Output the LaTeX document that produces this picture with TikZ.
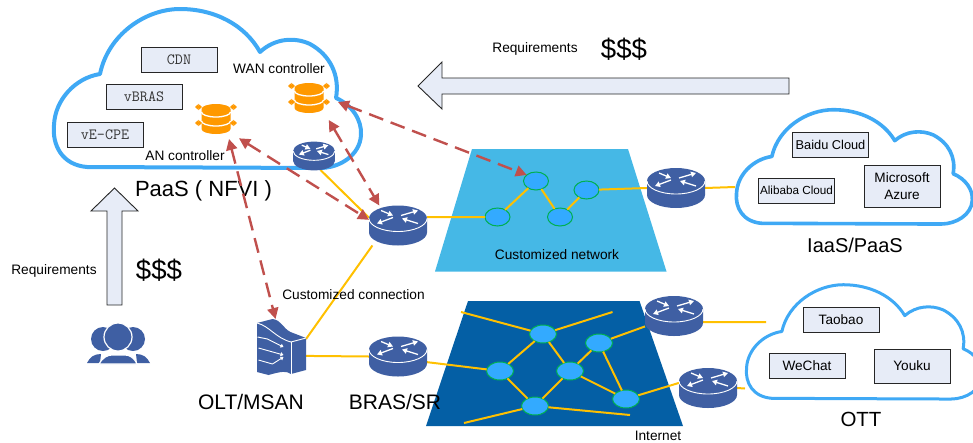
\documentclass[tikz,border=0pt]{standalone}
\usepackage{fontspec}
\setmainfont{Liberation Sans}
\usepackage{tikz}
\usetikzlibrary{arrows.meta, shapes.geometric}
\definecolor{cloudblue}{HTML}{3FA9F5}
\definecolor{boxfill}{HTML}{E7ECF7}
\definecolor{routerblue}{HTML}{3F5FA3}
\definecolor{netdark}{HTML}{045FA5}
\definecolor{netlight}{HTML}{45B8E6}
\definecolor{ovalblue}{HTML}{33AAFF}
\definecolor{ovalgreen}{HTML}{00B050}
\definecolor{linkyellow}{HTML}{FFC000}
\definecolor{dashred}{HTML}{C0504D}
\definecolor{serverorange}{HTML}{FF9900}
\tikzset{
    smalltext/.style={inner sep=0pt, align=center, font=\fontsize{13.7}{17}\selectfont},
    bigtext/.style={inner sep=0pt, font=\fontsize{21}{25}\selectfont},
    moneytext/.style={inner sep=0pt, font=\fontsize{27.6}{30}\selectfont},
    vnfbox/.style={draw=black!85, line width=0.9pt, fill=boxfill, inner sep=0pt, minimum width=76pt, minimum height=25pt, text=black!80, font=\ttfamily\fontsize{15.6}{17}\selectfont},
    appbox/.style={draw=black!85, line width=0.9pt, fill=boxfill, inner sep=0pt, minimum width=76pt, minimum height=25pt, align=center},
    netoval/.style={shape=ellipse, draw=ovalgreen, line width=1pt, fill=ovalblue, inner sep=0pt, outer sep=0pt},
    routerbox/.style={shape=rectangle, inner sep=0pt, outer sep=0pt, minimum width=58pt, minimum height=40pt},
    yellowline/.style={draw=linkyellow, line width=2pt},
    reddash/.style={draw=dashred, line width=2.4pt, dash pattern=on 15pt off 8pt, {Triangle[length=11pt,width=11pt]}-{Triangle[length=11pt,width=11pt]}},
    blockarrow/.style={draw=black!85, line width=0.9pt, fill=boxfill},
    cloudline/.style={draw=cloudblue, fill=white, line join=round},
    cloudshape/.pic={
        \path[cloudline] (35,159) .. controls (10,157) and (0,137) .. (2,117)
            .. controls (3,92) and (23,70) .. (48,66)
            .. controls (56,27) and (93,1) .. (128,1)
            .. controls (163,1) and (193,17) .. (208,44)
            .. controls (223,30) and (243,29) .. (258,36)
            .. controls (278,47) and (288,67) .. (284,90)
            .. controls (300,97) and (310,112) .. (309,127)
            .. controls (308,147) and (288,160) .. (268,160) -- cycle;
    },
    routericon/.pic={
        \fill[routerblue] (-29,-7) -- (-29,7) arc[start angle=180, end angle=360, x radius=29pt, y radius=13pt] -- (29,-7) arc[start angle=0, end angle=180, x radius=29pt, y radius=13pt] -- cycle;
        \draw[white, line width=0.9pt] (-29,-7) arc[start angle=180, end angle=360, x radius=29pt, y radius=13pt];
        \draw[white, line width=1.3pt, -{Triangle[length=5pt,width=5.5pt]}] (-17,-15) -- (-5,-10);
        \draw[white, line width=1.3pt, -{Triangle[length=5pt,width=5.5pt]}] (-5,-8) -- (-21,-2);
        \draw[white, line width=1.3pt, -{Triangle[length=5pt,width=5.5pt]}] (3,-10) -- (20,-15);
        \draw[white, line width=1.3pt, -{Triangle[length=5pt,width=5.5pt]}] (20,-2) -- (4,-7);
    },
    servericon/.pic={
        \fill[serverorange] (-14.5,-10) -- (-14.5,10) arc[start angle=180, end angle=360, x radius=14.5pt, y radius=5pt] -- (14.5,-10) arc[start angle=0, end angle=180, x radius=14.5pt, y radius=5pt] -- cycle;
        \draw[white, line width=1.3pt] (-14.5,-7) arc[start angle=180, end angle=360, x radius=14.5pt, y radius=5pt];
        \draw[white, line width=1.3pt] (-14.5,2) arc[start angle=180, end angle=360, x radius=14.5pt, y radius=5pt];
        \draw[serverorange, line width=1.4pt, {Triangle[length=3.5pt,width=6pt]}-{Triangle[length=3.5pt,width=6pt]}] (-21,-12) -- (-14,-12);
        \draw[serverorange, line width=1.4pt, {Triangle[length=3.5pt,width=6pt]}-{Triangle[length=3.5pt,width=6pt]}] (14,-12) -- (21,-12);
        \draw[serverorange, line width=1.4pt, {Triangle[length=3.5pt,width=6pt]}-{Triangle[length=3.5pt,width=6pt]}] (-21,4) -- (-14,4);
        \draw[serverorange, line width=1.4pt, {Triangle[length=3.5pt,width=6pt]}-{Triangle[length=3.5pt,width=6pt]}] (14,4) -- (21,4);
    },
    olticon/.pic={
        \fill[routerblue] (-24.5,-24) -- (-9,-28) .. controls (0,-27) and (1,-19) .. (9,-15) -- (24.5,-9) -- (24.5,23) -- (9.5,27) .. controls (5,24) and (1,24) .. (-13,28) -- (-24.5,25) -- cycle;
        \draw[white, line width=0.9pt] (-24.5,-24) .. controls (-12,-21) and (-6,-9) .. (9.5,-5) -- (24.5,-9);
        \draw[white, line width=0.9pt] (9.5,-5) -- (9.5,27);
        \draw[white, line width=0.9pt, -{Triangle[length=3pt,width=4pt]}] (-24,-10) -- (-14,-8) -- (2,0);
        \draw[white, line width=0.9pt, -{Triangle[length=3pt,width=4pt]}] (-23,1) -- (2,8);
        \draw[white, line width=0.9pt, -{Triangle[length=3pt,width=4pt]}] (-23,13) -- (-9,17) -- (2,10);
    },
    usersicon/.pic={
        \fill[routerblue] (-15,-8) circle[radius=12pt];
        \fill[routerblue] (15,-8) circle[radius=12pt];
        \fill[routerblue] (-31,16) .. controls (-28,10) and (-24,7) .. (-17,7) -- (-18,16) -- cycle;
        \fill[routerblue] (32,16) .. controls (29,10) and (25,7) .. (18,7) -- (19,16) -- cycle;
        \draw[white, line width=1.2pt, fill=routerblue] (0,-10) circle[radius=14pt];
        \draw[white, line width=1.2pt, fill=routerblue] (-19,17) .. controls (-15,10) and (-10,8) .. (-6,8) -- (7,8) .. controls (11,8) and (16,10) .. (19,17) -- cycle;
    }
}
\begin{document}
\begin{tikzpicture}[x=1pt, y=-1pt]
    \path[use as bounding box, clip] (0,0) rectangle (973,442);

    \fill[netlight] (472,149) -- (628,149) -- (666.5,271.5) -- (435,271.5) -- cycle;
    \fill[netdark] (468,301) -- (639.5,301) -- (683,426) -- (426,426) -- cycle;

    \pic[cloudline, line width=4pt] at (52,8) {cloudshape};
    \pic[cloudline, line width=3.6pt, xscale=0.768, yscale=0.719] at (735,109) {cloudshape};
    \pic[cloudline, line width=3pt, xscale=0.768, yscale=0.719] at (745,284) {cloudshape};

    \node(cdn)[vnfbox] at (179,59.5) {CDN};
    \node(vbras)[vnfbox] at (144,96.5) {vBRAS};
    \node(vecpe)[vnfbox] at (105,135) {vE-CPE};
    \node(baidu)[appbox, font=\fontsize{12.8}{15}\selectfont] at (830.5,144.5) {Baidu Cloud};
    \node(alibaba)[appbox, font=\fontsize{11.7}{14}\selectfont] at (796.5,190.5) {Alibaba Cloud};
    \node(azure)[appbox, minimum height=42pt, font=\fontsize{13.6}{17.5}\selectfont] at (902,186) {Microsoft\\Azure};
    \node(taobao)[appbox, font=\fontsize{13.6}{15}\selectfont] at (841,319.5) {Taobao};
    \node(wechat)[appbox, font=\fontsize{13.6}{15}\selectfont] at (807,366) {WeChat};
    \node(youku)[appbox, minimum height=34pt, font=\fontsize{13.6}{15}\selectfont] at (912,366) {Youku};

    \node(wan)[minimum width=58pt, minimum height=44pt, inner sep=0pt, outer sep=0pt] at (309,98) {};
    \node(an)[minimum width=46pt, minimum height=40pt, inner sep=0pt, outer sep=0pt] at (216,119) {};
    \node(rA)[routerbox, minimum width=42pt, minimum height=28pt] at (314,156) {};
    \node(rB)[routerbox] at (398,225.5) {};
    \node(rC)[routerbox] at (676,188) {};
    \node(rD)[routerbox] at (398,356.5) {};
    \node(rE)[routerbox] at (674,316) {};
    \node(rF)[routerbox] at (708,388) {};
    \node(olt)[minimum width=49pt, minimum height=56pt, inner sep=0pt, outer sep=0pt] at (281.5,347) {};
    \node(users)[minimum width=64pt, minimum height=40pt, inner sep=0pt] at (118,347) {};

    \node(gA)[netoval, minimum width=25pt, minimum height=18pt] at (497.5,217) {};
    \node(gB)[netoval, minimum width=25pt, minimum height=18pt] at (536,181) {};
    \node(gC)[netoval, minimum width=25pt, minimum height=18pt] at (560,217) {};
    \node(gD)[netoval, minimum width=25pt, minimum height=18pt] at (586.5,190) {};

    \node(nA)[netoval, minimum width=27pt, minimum height=18pt] at (543,334) {};
    \node(nB)[netoval, minimum width=27pt, minimum height=18pt] at (599,343) {};
    \node(nC)[netoval, minimum width=27pt, minimum height=18pt] at (500,371) {};
    \node(nD)[netoval, minimum width=27pt, minimum height=18pt] at (570,371) {};
    \node(nE)[netoval, minimum width=27pt, minimum height=18pt] at (626,399) {};
    \node(nF)[netoval, minimum width=27pt, minimum height=18pt] at (535,406) {};

    \coordinate(freeA) at (461,312);
    \coordinate(freeB) at (612.5,312);
    \coordinate(freeC) at (464,423);
    \coordinate(freeD) at (630,415);
    \coordinate(iaasEnd) at (735,187);
    \coordinate(ottA) at (766,322);
    \coordinate(ottB) at (745,388.5);

    \draw[yellowline] (rA.-65) -- (rB.165);
    \draw[yellowline] (rB.16) -- (gA);
    \draw[yellowline] (gA) -- (gB);
    \draw[yellowline] (gB) -- (gC);
    \draw[yellowline] (gC) -- (gD);
    \draw[yellowline] (gD) -- (rC.west);
    \draw[yellowline] (rC.east) -- (iaasEnd);
    \draw[yellowline] (olt.18) -- (rB.218);
    \draw[yellowline] (olt.-20) -- (rD.west);
    \draw[yellowline] (rD.-11) -- (nC);
    \draw[yellowline] (nA) -- (freeA);
    \draw[yellowline] (nA) -- (freeB);
    \draw[yellowline] (nA) -- (nC);
    \draw[yellowline] (nA) -- (nD);
    \draw[yellowline] (nB) -- (nD);
    \draw[yellowline] (nB) -- (nE);
    \draw[yellowline] (nB) -- (rE);
    \draw[yellowline] (nC) -- (nF);
    \draw[yellowline] (nD) -- (nF);
    \draw[yellowline] (nD) -- (nE);
    \draw[yellowline] (nE) -- (rF.170);
    \draw[yellowline] (nF) -- (freeC);
    \draw[yellowline] (nF) -- (freeD);
    \draw[yellowline] (rE.-12) -- (ottA);
    \draw[yellowline] (rF.east) -- (ottB);

    \pic[scale=0.72] at (rA) {routericon};
    \pic at (rB) {routericon};
    \pic at (rC) {routericon};
    \pic at (rD) {routericon};
    \pic at (rE) {routericon};
    \pic at (rF) {routericon};
    \pic at (wan) {servericon};
    \pic at (an) {servericon};
    \pic at (olt) {olticon};
    \pic at (users) {usersicon};

    \draw[blockarrow] (789,78) -- (442,78) -- (442,62) -- (418,86) -- (442,109) -- (442,94) -- (789,94) -- cycle;
    \draw[blockarrow] (107,305) -- (107,211) -- (91,211) -- (114.5,188) -- (138,211) -- (122,211) -- (122,305) -- cycle;

    \node(wanlabel)[smalltext] at (279,69) {WAN controller};
    \node(anlabel)[smalltext] at (185,155.5) {AN controller};
    \node(paas)[bigtext, font=\fontsize{22}{25}\selectfont] at (203.5,191) {PaaS ( NFVI )};
    \node(reqleft)[smalltext] at (54,271) {Requirements};
    \node(reqtop)[smalltext] at (535,49) {Requirements};
    \node(moneyleft)[moneytext] at (159,270) {\$\$\$};
    \node(moneytop)[moneytext] at (624,49) {\$\$\$};
    \node(connlabel)[smalltext] at (353.5,295) {Customized connection};
    \node(netlabel)[smalltext] at (557,255) {Customized network};
    \node(oltlabel)[bigtext] at (251,402) {OLT/MSAN};
    \node(braslabel)[bigtext] at (395,402) {BRAS/SR};
    \node(iaas)[bigtext, font=\fontsize{20}{24}\selectfont] at (855,245) {IaaS/PaaS};
    \node(ott)[bigtext, font=\fontsize{20.5}{24}\selectfont] at (861,419) {OTT};
    \node(internet)[smalltext] at (658,436) {Internet};

    \draw[reddash] (wan.-8) -- (gB.147);
    \draw[reddash] (wan.-48) -- (rB.133);
    \draw[reddash] (an.-40) -- (rB.169);
    \draw[reddash] (an.-57) -- (olt.102);

    \end{tikzpicture}
\end{document}
